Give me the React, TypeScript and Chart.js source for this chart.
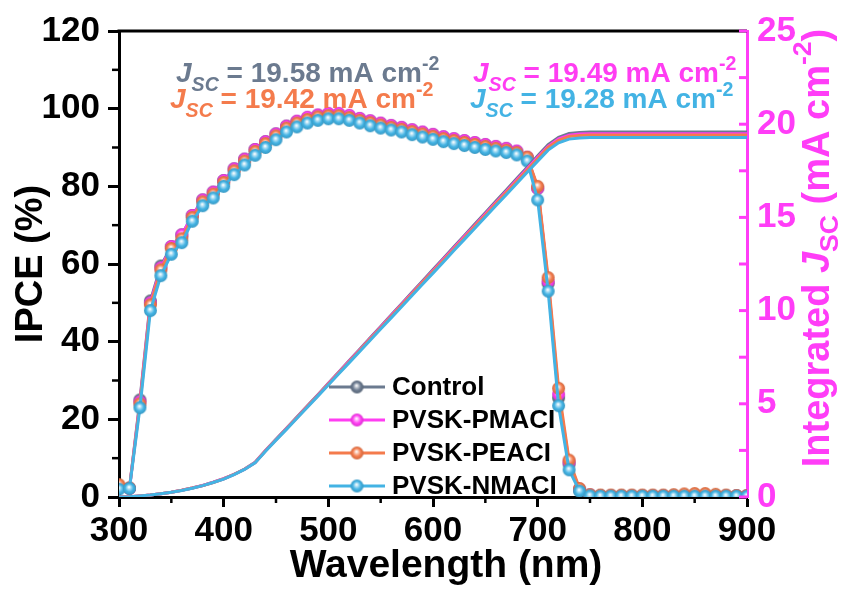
import React, { useEffect, useRef } from 'react';
import { Chart, registerables } from 'chart.js';

Chart.register(...registerables);

const FONT = '"Liberation Sans", Arial, Helvetica, sans-serif';

const wavelengths = [
  300, 310, 320, 330, 340, 350, 360, 370, 380, 390,
  400, 410, 420, 430, 440, 450, 460, 470, 480, 490,
  500, 510, 520, 530, 540, 550, 560, 570, 580, 590,
  600, 610, 620, 630, 640, 650, 660, 670, 680, 690,
  700, 710, 720, 730, 740, 750, 760, 770, 780, 790,
  800, 810, 820, 830, 840, 850, 860, 870, 880, 890, 900,
];

const seriesNames = ['Control', 'PVSK-PMACI', 'PVSK-PEACI', 'PVSK-NMACI'];
const seriesColors = ['#6B7A8F', '#FF3DF2', '#F47B4C', '#43B3E4'];
const jscValues = ['19.58', '19.49', '19.42', '19.28'];

const ipceControl = [
  2.5, 2.3, 25, 50.5, 59.5, 64.5, 67.5, 72.5, 76.5, 78.5,
  81.5, 84.5, 87, 89.5, 91.5, 93.5, 95.5, 96.7, 97.6, 98.3,
  98.6, 98.6, 98.1, 97.4, 96.8, 96.2, 95.6, 95.1, 94.5, 93.9,
  93.3, 92.7, 92.2, 91.7, 91.2, 90.7, 90.2, 89.7, 89.0, 87.4,
  79.5, 55, 25.5, 8.5, 1.8, 0.5, 0.4, 0.3, 0.3, 0.3,
  0.3, 0.3, 0.3, 0.3, 0.3, 0.3, 0.3, 0.3, 0.3, 0.3, 0.3,
];
const ipcePMACI = [
  2.6, 2.2, 24.5, 50, 59, 64.5, 67.5, 72.5, 76.5, 78.5,
  81.5, 84.5, 87, 89.5, 91.5, 93.5, 95.5, 96.8, 97.8, 98.4,
  98.8, 98.8, 98.3, 97.5, 96.9, 96.3, 95.7, 95.2, 94.6, 94.0,
  93.4, 92.8, 92.3, 91.8, 91.3, 90.8, 90.3, 89.8, 89.1, 87.5,
  79.5, 55.5, 26.5, 9, 2, 0.5, 0.3, 0.3, 0.3, 0.3,
  0.3, 0.3, 0.3, 0.3, 0.3, 0.3, 0.3, 0.3, 0.3, 0.3, 0.3,
];
const ipcePEACI = [
  3.2, 2.3, 24, 49.5, 58.5, 64, 66.5, 72, 76, 78,
  81, 84, 86.5, 89, 91, 93, 95, 96.3, 97.2, 97.9,
  98.2, 98.2, 97.7, 97, 96.4, 95.8, 95.2, 94.7, 94.1, 93.5,
  92.9, 92.3, 91.8, 91.3, 90.8, 90.3, 89.8, 89.3, 88.7, 87.5,
  80, 56.5, 28, 9.5, 2.2, 0.6, 0.5, 0.5, 0.5, 0.5,
  0.5, 0.5, 0.5, 0.6, 0.8, 0.9, 0.9, 0.7, 0.5, 0.4, 0.4,
];
const ipceNMACI = [
  2.0, 2.2, 23, 48, 57, 62.5, 65.5, 71, 75, 77,
  80, 83, 85.5, 88, 90, 92, 94, 95.3, 96.3, 97,
  97.4, 97.4, 97, 96.3, 95.6, 95, 94.5, 94, 93.3, 92.7,
  92.1, 91.5, 91, 90.5, 90, 89.5, 89.1, 88.7, 88.1, 86.5,
  76.5, 53, 23.5, 7, 1.5, 0.3, 0.2, 0.2, 0.2, 0.2,
  0.2, 0.2, 0.2, 0.2, 0.2, 0.2, 0.2, 0.2, 0.2, 0.2, 0.2,
];

const jscControl = [
  0, 0.02, 0.06, 0.11, 0.18, 0.26, 0.36, 0.48, 0.62, 0.79,
  0.98, 1.22, 1.5, 1.86, 2.5, 3.1, 3.69, 4.29, 4.89, 5.49,
  6.1, 6.71, 7.32, 7.93, 8.54, 9.15, 9.76, 10.37, 10.98, 11.59,
  12.2, 12.81, 13.42, 14.03, 14.64, 15.25, 15.86, 16.47, 17.08, 17.69,
  18.3, 18.9, 19.3, 19.5, 19.56, 19.58, 19.58, 19.58, 19.58, 19.58,
  19.58, 19.58, 19.58, 19.58, 19.58, 19.58, 19.58, 19.58, 19.58, 19.58, 19.58,
];
const jscPMACI = [
  0, 0.02, 0.06, 0.11, 0.18, 0.26, 0.36, 0.48, 0.62, 0.79,
  0.98, 1.21, 1.49, 1.85, 2.49, 3.08, 3.67, 4.27, 4.87, 5.46,
  6.07, 6.68, 7.29, 7.89, 8.5, 9.11, 9.72, 10.32, 10.93, 11.54,
  12.14, 12.75, 13.36, 13.97, 14.57, 15.18, 15.79, 16.39, 17.0, 17.61,
  18.22, 18.81, 19.21, 19.41, 19.47, 19.49, 19.49, 19.49, 19.49, 19.49,
  19.49, 19.49, 19.49, 19.49, 19.49, 19.49, 19.49, 19.49, 19.49, 19.49, 19.49,
];
const jscPEACI = [
  0, 0.02, 0.06, 0.11, 0.18, 0.26, 0.36, 0.48, 0.61, 0.78,
  0.97, 1.21, 1.49, 1.84, 2.48, 3.07, 3.66, 4.25, 4.85, 5.45,
  6.05, 6.65, 7.26, 7.86, 8.47, 9.07, 9.68, 10.28, 10.89, 11.5,
  12.1, 12.7, 13.31, 13.91, 14.52, 15.12, 15.73, 16.34, 16.94, 17.54,
  18.15, 18.75, 19.14, 19.34, 19.4, 19.42, 19.42, 19.42, 19.42, 19.42,
  19.42, 19.42, 19.42, 19.42, 19.42, 19.42, 19.42, 19.42, 19.42, 19.42, 19.42,
];
const jscNMACI = [
  0, 0.02, 0.06, 0.11, 0.18, 0.26, 0.35, 0.47, 0.61, 0.78,
  0.96, 1.2, 1.48, 1.83, 2.46, 3.05, 3.63, 4.22, 4.82, 5.41,
  6.01, 6.61, 7.21, 7.81, 8.41, 9.01, 9.61, 10.21, 10.81, 11.41,
  12.01, 12.61, 13.22, 13.82, 14.42, 15.02, 15.62, 16.22, 16.82, 17.42,
  18.02, 18.61, 19.0, 19.2, 19.26, 19.28, 19.28, 19.28, 19.28, 19.28,
  19.28, 19.28, 19.28, 19.28, 19.28, 19.28, 19.28, 19.28, 19.28, 19.28, 19.28,
];

const ipceSeries = [ipceControl, ipcePMACI, ipcePEACI, ipceNMACI];
const jscSeries = [jscControl, jscPMACI, jscPEACI, jscNMACI];

const PINK_AXIS = '#FF3DF7';

function hexToRgb(h: string) {
  const v = parseInt(h.slice(1), 16);
  return [(v >> 16) & 255, (v >> 8) & 255, v & 255];
}
function mix(h: string, t: number[], f: number) {
  const c = hexToRgb(h);
  return `rgb(${c.map((x, i) => Math.round(x + (t[i] - x) * f)).join(',')})`;
}

function makeSphere(color: string, r = 6.5) {
  const size = Math.ceil(r * 2) + 2;
  const c = document.createElement('canvas');
  c.width = size;
  c.height = size;
  const g = c.getContext('2d')!;
  const cx = size / 2;
  const cy = size / 2;
  const grad = g.createRadialGradient(cx - 0.5, cy - 1.5, 0.3, cx, cy, r);
  grad.addColorStop(0, '#ffffff');
  grad.addColorStop(0.25, mix(color, [255, 255, 255], 0.55));
  grad.addColorStop(0.6, color);
  grad.addColorStop(1, mix(color, [0, 0, 0], 0.15));
  g.fillStyle = grad;
  g.beginPath();
  g.arc(cx, cy, r, 0, Math.PI * 2);
  g.fill();
  return c;
}

type Part = { t: string; italic?: boolean; scale: number; dy: number };

function partFont(p: Part, fs: number) {
  return `${p.italic ? 'italic ' : ''}bold ${fs * p.scale}px ${FONT}`;
}
function partsWidth(ctx: CanvasRenderingContext2D, parts: Part[], fs: number) {
  let w = 0;
  for (const p of parts) {
    ctx.font = partFont(p, fs);
    w += ctx.measureText(p.t).width;
  }
  return w;
}
function drawParts(ctx: CanvasRenderingContext2D, parts: Part[], x: number, y: number, fs: number) {
  let cx = x;
  for (const p of parts) {
    ctx.font = partFont(p, fs);
    ctx.fillText(p.t, cx, y + p.dy * fs);
    cx += ctx.measureText(p.t).width;
  }
}
function jscParts(v: string): Part[] {
  return [
    { t: 'J', italic: true, scale: 1, dy: 0 },
    { t: 'SC', italic: true, scale: 0.7, dy: 0.32 },
    { t: ` = ${v} mA cm`, scale: 1, dy: 0 },
    { t: '-2', scale: 0.7, dy: -0.42 },
  ];
}

export default function App() {
  const ref = useRef<HTMLCanvasElement | null>(null);

  useEffect(() => {
    document.body.style.margin = '0';
    const canvas = ref.current;
    if (!canvas) return;
    const spheres = seriesColors.map((c) => makeSphere(c));

    const jscDatasets = jscSeries.map((arr, i) => ({
      label: seriesNames[i] + ' Jsc',
      data: wavelengths.map((w, k) => ({ x: w, y: arr[k] })),
      yAxisID: 'y2',
      borderColor: seriesColors[i],
      backgroundColor: seriesColors[i],
      borderWidth: 3,
      pointRadius: 0,
      tension: 0,
      order: 3 - i,
    }));
    const ipceDatasets = ipceSeries.map((arr, i) => ({
      label: seriesNames[i],
      data: wavelengths.map((w, k) => ({ x: w, y: arr[k] })),
      yAxisID: 'y',
      borderColor: seriesColors[i],
      backgroundColor: seriesColors[i],
      borderWidth: 3,
      pointStyle: spheres[i],
      pointRadius: 6.5,
      tension: 0,
      order: 10 - i,
    }));

    const decor = {
      id: 'decor',
      afterDraw(chart: any) {
        const ctx: CanvasRenderingContext2D = chart.ctx;
        const { left, right, top, bottom } = chart.chartArea;
        const xs = chart.scales.x;
        const ys = chart.scales.y;
        const y2 = chart.scales.y2;
        ctx.save();
        ctx.lineCap = 'butt';
        // top frame
        ctx.strokeStyle = '#000';
        ctx.lineWidth = 3;
        ctx.beginPath();
        ctx.moveTo(left - 1.5, top);
        ctx.lineTo(right, top);
        ctx.stroke();
        // minor ticks x
        ctx.lineWidth = 2.5;
        for (let v = 350; v < 900; v += 100) {
          const px = xs.getPixelForValue(v);
          ctx.beginPath();
          ctx.moveTo(px, bottom);
          ctx.lineTo(px, bottom + 6);
          ctx.stroke();
        }
        // minor ticks y
        for (let v = 10; v < 120; v += 20) {
          const py = ys.getPixelForValue(v);
          ctx.beginPath();
          ctx.moveTo(left - 7, py);
          ctx.lineTo(left, py);
          ctx.stroke();
        }
        // right axis inward ticks
        ctx.strokeStyle = PINK_AXIS;
        ctx.lineWidth = 3;
        for (let v = 0; v <= 25; v += 2.5) {
          const py = y2.getPixelForValue(v);
          ctx.beginPath();
          ctx.moveTo(right - 8, py);
          ctx.lineTo(right, py);
          ctx.stroke();
        }
        // x axis title
        ctx.fillStyle = '#000';
        ctx.textAlign = 'center';
        ctx.textBaseline = 'middle';
        ctx.font = `bold 39px ${FONT}`;
        ctx.fillText('Wavelength (nm)', (left + right) / 2 + 13, bottom + 69);

        // right axis title
        const tfs = 38;
        const titleParts: Part[] = [
          { t: 'Integrated ', scale: 1, dy: 0 },
          { t: 'J', italic: true, scale: 1, dy: 0 },
          { t: 'SC', scale: 0.7, dy: 0.3 },
          { t: ' (mA cm', scale: 1, dy: 0 },
          { t: '-2', scale: 0.7, dy: -0.4 },
          { t: ')', scale: 1, dy: 0 },
        ];
        ctx.fillStyle = PINK_AXIS;
        ctx.textBaseline = 'middle';
        ctx.textAlign = 'left';
        const tw = partsWidth(ctx, titleParts, tfs);
        ctx.save();
        ctx.translate(right + 72, (top + bottom) / 2 - 16);
        ctx.rotate(-Math.PI / 2);
        drawParts(ctx, titleParts, -tw / 2, 0, tfs);
        ctx.restore();

        // annotations
        ctx.textBaseline = 'alphabetic';
        const afs = 28;
        const anchors = [
          [left + 57, top + 51],
          [left + 354, top + 51],
          [left + 51, top + 77],
          [left + 351, top + 77],
        ];
        for (let i = 0; i < 4; i++) {
          ctx.fillStyle = seriesColors[i];
          drawParts(ctx, jscParts(jscValues[i]), anchors[i][0], anchors[i][1], afs);
        }

        // legend
        const lx = left + 210;
        const ly = top + 356;
        for (let i = 0; i < 4; i++) {
          const yy = ly + i * 33;
          ctx.strokeStyle = seriesColors[i];
          ctx.lineWidth = 3;
          ctx.beginPath();
          ctx.moveTo(lx, yy);
          ctx.lineTo(lx + 56, yy);
          ctx.stroke();
          const s = spheres[i];
          ctx.drawImage(s, lx + 28 - s.width / 2, yy - s.height / 2);
          ctx.fillStyle = '#000';
          ctx.font = `bold 26px ${FONT}`;
          ctx.textBaseline = 'middle';
          ctx.fillText(seriesNames[i], lx + 63, yy + 1);
        }
        ctx.restore();
      },
    };

    const tickFont = { family: FONT, size: 35, weight: 'bold' as const };
    const titleFont = { family: FONT, size: 38, weight: 'bold' as const };

    const chart = new Chart(canvas, {
      type: 'line',
      data: { datasets: [...jscDatasets, ...ipceDatasets] as any },
      options: {
        responsive: false,
        animation: false,
        layout: { padding: { left: 0, right: 0, top: 29, bottom: 0 } },
        plugins: { legend: { display: false }, tooltip: { enabled: false } },
        scales: {
          x: {
            type: 'linear',
            position: 'bottom',
            min: 300,
            max: 900,
            ticks: { stepSize: 100, color: '#000', font: tickFont, padding: 3, autoSkip: false, maxRotation: 0 },
            grid: { display: true, drawOnChartArea: false, drawTicks: true, tickLength: 10, tickWidth: 3, tickColor: '#000' },
            border: { display: true, color: '#000', width: 3 },
            title: { display: false },
            afterFit: (s: any) => { s.height = 97; },
          },
          y: {
            type: 'linear',
            position: 'left',
            min: 0,
            max: 120,
            ticks: { stepSize: 20, color: '#000', font: tickFont, padding: 8 },
            grid: { display: true, drawOnChartArea: false, drawTicks: true, tickLength: 11, tickWidth: 3, tickColor: '#000' },
            border: { display: true, color: '#000', width: 3 },
            title: { display: true, text: 'IPCE (%)', color: '#000', font: titleFont, padding: { top: 9, bottom: 0 } },
            afterFit: (s: any) => { s.width = 119; },
          },
          y2: {
            type: 'linear',
            position: 'right',
            min: 0,
            max: 25,
            ticks: { stepSize: 5, color: PINK_AXIS, font: tickFont, padding: 10 },
            grid: { display: false, drawOnChartArea: false, drawTicks: false },
            border: { display: true, color: PINK_AXIS, width: 3 },
            afterFit: (s: any) => { s.width = 120; },
          },
        },
      } as any,
      plugins: [decor],
    });
    return () => chart.destroy();
  }, []);

  return (
    <div style={{ position: 'absolute', left: 0, top: 0, width: 867, height: 594, background: '#fff' }}>
      <canvas ref={ref} width={867} height={594} style={{ display: 'block' }} />
    </div>
  );
}
